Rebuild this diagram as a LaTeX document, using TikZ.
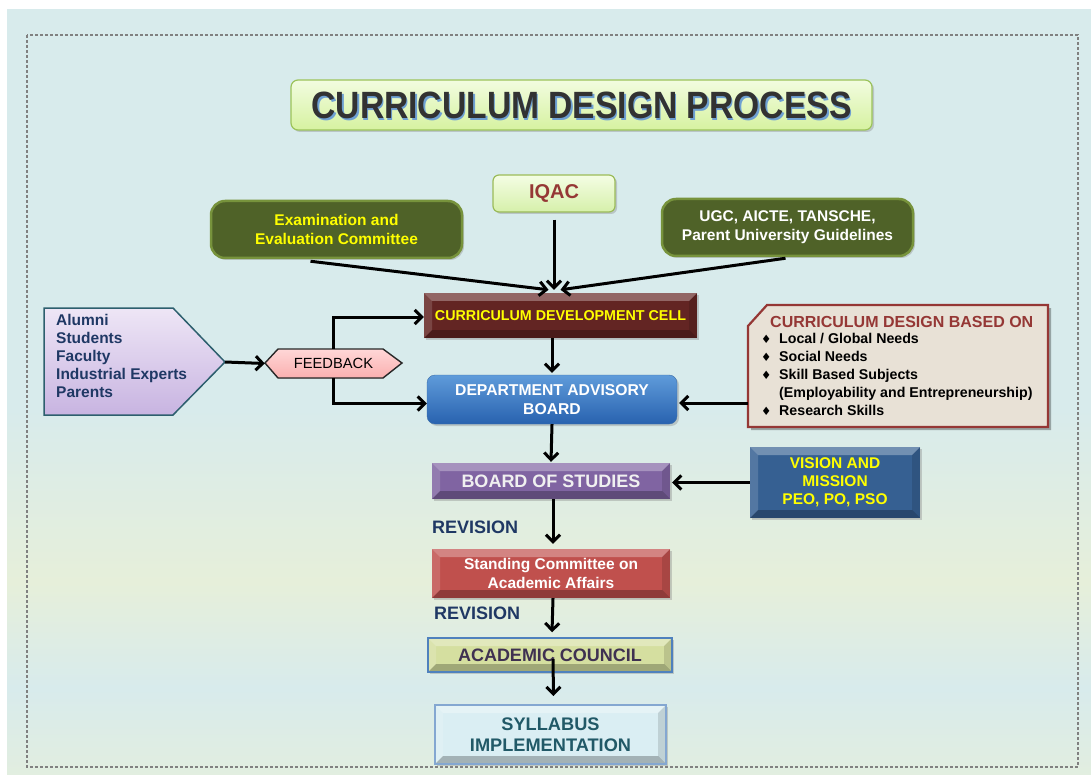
\documentclass[tikz,border=0pt]{standalone}
\usepackage{fontspec}
\setmainfont{Liberation Sans}
\newfontfamily\dv{DejaVu Sans}
\usetikzlibrary{arrows.meta,shadows,calc}
\definecolor{olive}{HTML}{4F6228}
\definecolor{oliveb}{HTML}{77933C}
\definecolor{maroon}{HTML}{632523}
\definecolor{dred}{HTML}{953735}
\definecolor{navy}{HTML}{1F3864}
\definecolor{purp}{HTML}{8064A2}
\definecolor{sred}{HTML}{C0504D}
\definecolor{acfill}{HTML}{D5DFA0}
\definecolor{acbord}{HTML}{4F81BD}
\definecolor{actext}{HTML}{3F3151}
\definecolor{sylfill}{HTML}{DAEEF3}
\definecolor{syltext}{HTML}{215967}
\definecolor{visfill}{HTML}{366092}
\definecolor{beige}{HTML}{E8E1D6}
\definecolor{yel}{HTML}{FFFF00}
\definecolor{bgG}{HTML}{E6EFDA}
\definecolor{bgB}{HTML}{D8EBEC}
\pgfdeclareverticalshading{bgshade}{100bp}{color(0bp)=(bgB); color(7.2bp)=(bgG); color(12.8bp)=(bgB); color(22.5bp)=(bgG); color(30.7bp)=(bgB); color(37.6bp)=(bgG); color(49bp)=(bgB); color(88bp)=(bgB); color(96bp)=(bgB); color(100bp)=(bgG)}
\tikzset{
  arr/.style={line width=3pt,-{Straight Barb[length=7pt,width=14pt,line width=3pt]}},
  bevel/.style={path picture={
    \coordinate (bnw) at (path picture bounding box.north west);
    \coordinate (bse) at (path picture bounding box.south east);
    \coordinate (bne) at (bnw -| bse);
    \coordinate (bsw) at (bse -| bnw);
    \fill[white,opacity=.30] (bnw) -- (bne) -- ($(bne)+(-8pt,-8pt)$) -- ($(bnw)+(8pt,-8pt)$) -- cycle;
    \fill[white,opacity=.15] (bnw) -- ($(bnw)+(8pt,-8pt)$) -- ($(bsw)+(8pt,8pt)$) -- (bsw) -- cycle;
    \fill[black,opacity=.25] (bsw) -- (bse) -- ($(bse)+(-8pt,8pt)$) -- ($(bsw)+(8pt,8pt)$) -- cycle;
    \fill[black,opacity=.12] (bne) -- ($(bne)+(-8pt,-8pt)$) -- ($(bse)+(-8pt,8pt)$) -- (bse) -- cycle;
  }},
  shad/.style={drop shadow={shadow xshift=2pt,shadow yshift=-2pt,opacity=.35}},
  greenbox/.style={rounded corners=14pt,fill=olive,draw=oliveb,line width=2.5pt,shad,
    align=center,font=\bfseries\fontsize{15.5}{19}\selectfont},
  flat/.style={inner sep=0pt,align=center},
  rev/.style={text=navy,font=\bfseries\fontsize{18}{20}\selectfont},
  bul/.style={anchor=base west,inner sep=0pt,font=\bfseries\fontsize{14.2}{16}\selectfont},
}
\begin{document}
\begin{tikzpicture}[x=1pt,y=-1pt]
\useasboundingbox (0,0) rectangle (1091,775);
\fill[white] (0,0) rectangle (1091,775);
\shade[shading=bgshade] (7,10) rectangle (1091,775);
\draw[gray,densely dashed,line width=1.2pt] (27,35) rectangle (1078,767);

% title
\node[flat,rounded corners=7pt,draw={rgb,255:red,155;green,195;blue,90},line width=1.2pt,
  top color={rgb,255:red,242;green,252;blue,224},bottom color={rgb,255:red,214;green,242;blue,160},shad,
  minimum width=581,minimum height=50] (title) at (581.5,105) {};
\node[flat,text={rgb,255:red,110;green,160;blue,210},font=\bfseries\fontsize{38}{40}\selectfont] at (583,107) {\scalebox{0.885}[1]{CURRICULUM DESIGN PROCESS}};
\node[flat,text={rgb,255:red,50;green,50;blue,50},font=\bfseries\fontsize{38}{40}\selectfont] (titletext) at (581.5,105.5) {\scalebox{0.885}[1]{CURRICULUM DESIGN PROCESS}};

% top boxes
\node[flat,rounded corners=6pt,draw={rgb,255:red,155;green,187;blue,89},line width=1.2pt,
  top color={rgb,255:red,244;green,253;blue,228},bottom color={rgb,255:red,214;green,240;blue,170},shad,
  minimum width=122,minimum height=37,text=dred,font=\bfseries\fontsize{20}{22}\selectfont] (iqac) at (554,193.5) {IQAC};
\node[greenbox,minimum width=251,minimum height=57,text=yel] (exam) at (336.5,229.5) {Examination and\\Evaluation Committee};
\node[greenbox,minimum width=251,minimum height=57,text=white] (ugc) at (787.5,227.5) {UGC, AICTE, TANSCHE,\\Parent University Guidelines};

% main column
\node[flat,fill=maroon,bevel,shad,minimum width=273,minimum height=45,text=yel,
  font=\bfseries\fontsize{14.3}{16}\selectfont] (cdc) at (560.5,315.5) {CURRICULUM DEVELOPMENT CELL};
\node[flat,rounded corners=8pt,top color={rgb,255:red,95;green,155;blue,218},bottom color={rgb,255:red,40;green,98;blue,175},
  draw={rgb,255:red,60;green,110;blue,170},shad,minimum width=250,minimum height=49,text=white,
  font=\bfseries\fontsize{15.7}{19}\selectfont] (dab) at (552,399.5) {DEPARTMENT ADVISORY\\BOARD};
\node[flat,fill=purp,bevel,shad,minimum width=238,minimum height=36,text={rgb,255:red,240;green,240;blue,240},
  font=\bfseries\fontsize{18}{20}\selectfont] (bos) at (551,481) {BOARD OF STUDIES};
\node[flat,fill=sred,bevel,shad,minimum width=238,minimum height=49,text=white,
  font=\bfseries\fontsize{15.5}{19}\selectfont] (std) at (551,573.5) {Standing Committee on\\Academic Affairs};
\node[flat,fill=acfill,bevel,draw=acbord,line width=1.5pt,shad,minimum width=244,minimum height=34,text=actext,
  font=\bfseries\fontsize{18}{20}\selectfont] (ac) at (550,655) {ACADEMIC COUNCIL};
\node[flat,fill=sylfill,bevel,draw=acbord!70,line width=2pt,shad,minimum width=231,minimum height=59,text=syltext,
  font=\bfseries\fontsize{18.2}{21}\selectfont] (syl) at (550.5,734.5) {SYLLABUS\\IMPLEMENTATION};
\node[flat,fill=visfill,bevel,shad,minimum width=170,minimum height=71,text=yel,
  font=\bfseries\fontsize{15.5}{18}\selectfont] (vis) at (835,482.5) {VISION AND\\MISSION\\PEO, PO, PSO};

\node[rev,anchor=west,inner sep=0pt] (rev1) at (432,527) {REVISION};
\node[rev,anchor=west,inner sep=0pt] (rev2) at (434,613) {REVISION};

% curriculum design based on
\fill[black,opacity=.3] (770,308) -- (1051,308) -- (1051,430) -- (751,430) -- (751,329) -- cycle;
\filldraw[fill=beige,draw=dred,line width=2.2pt] (767,305) -- (1048,305) -- (1048,427) -- (748,427) -- (748,326) -- cycle;
\coordinate (cdbw) at (748,403);
\node[bul,text=dred,font=\bfseries\fontsize{16}{18}\selectfont] (cdbt) at (770,327) {CURRICULUM DESIGN BASED ON};
\foreach \yy/\tt [count=\i] in {343/{Local / Global Needs},361/{Social Needs},379/{Skill Based Subjects},415/{Research Skills}}{
  \node[bul] (b\i) at (761,\yy) {{\dv\fontsize{11.5}{12}\selectfont ♦}};
  \node[bul] (t\i) at (779,\yy) {\tt};
}
\node[bul] (t5) at (779,397) {(Employability and Entrepreneurship)};

% stakeholders pentagon
\filldraw[draw={rgb,255:red,45;green,95;blue,110},line width=1.5pt,
  top color={rgb,255:red,238;green,230;blue,246},bottom color={rgb,255:red,200;green,180;blue,225}]
  (44,308) -- (173,308) -- (225,362) -- (173,415) -- (44,415) -- cycle;
\coordinate (tip) at (225,362);
\node[anchor=north west,inner sep=0pt,align=left,text=navy,font=\bfseries\fontsize{15.5}{18}\selectfont] (stake) at (56,314)
  {Alumni\\Students\\Faculty\\Industrial Experts\\Parents};

% feedback hexagon
\filldraw[draw={rgb,255:red,40;green,40;blue,40},line width=1.4pt,
  top color={rgb,255:red,255;green,215;blue,215},bottom color={rgb,255:red,250;green,175;blue,175}]
  (265,363) -- (278,349) -- (383,349) -- (402,363) -- (383,378) -- (278,378) -- cycle;
\node[flat,minimum width=137,minimum height=29,font=\fontsize{14.7}{16}\selectfont] (fb) at (333.5,363.5) {FEEDBACK};

% connectors
\draw[arr] ($(exam.south)+(-26,2)$) -- ($(cdc.north)+(-12,-3)$);
\draw[arr] (iqac.south) ++(0,7) -- ($(iqac.south |- cdc.north)+(0,-3)$);
\draw[arr] ($(ugc.south)+(-2,1)$) -- ($(cdc.north)+(0,-3)$);
\draw[arr] (tip) -- (fb.west);
\draw[arr] (fb.north) |- ($(cdc.west)+(0,1.5)$);
\draw[arr] (fb.south) |- ($(dab.west)+(0,4)$);
\draw[arr] (cdc.south -| dab.north) -- ($(dab.north)+(0,-2)$);
\draw[arr] (cdbw) -- ($(cdbw -| dab.east)+(2,0)$);
\draw[arr] (dab.south) -- ($(bos.north)+(0,-1)$);
\draw[arr] (vis.west) -- ($(vis.west -| bos.east)+(2,0)$);
\draw[arr] (bos.south) ++(2,0) -- ($(std.north)+(2,-5)$);
\draw[arr] (std.south) ++(2,0) -- ($(ac.north)+(2,-5)$);
\draw[arr] ($(ac.center)+(3,4)$) -- ($(syl.north)+(3,-8)$);
\end{tikzpicture}
\end{document}
